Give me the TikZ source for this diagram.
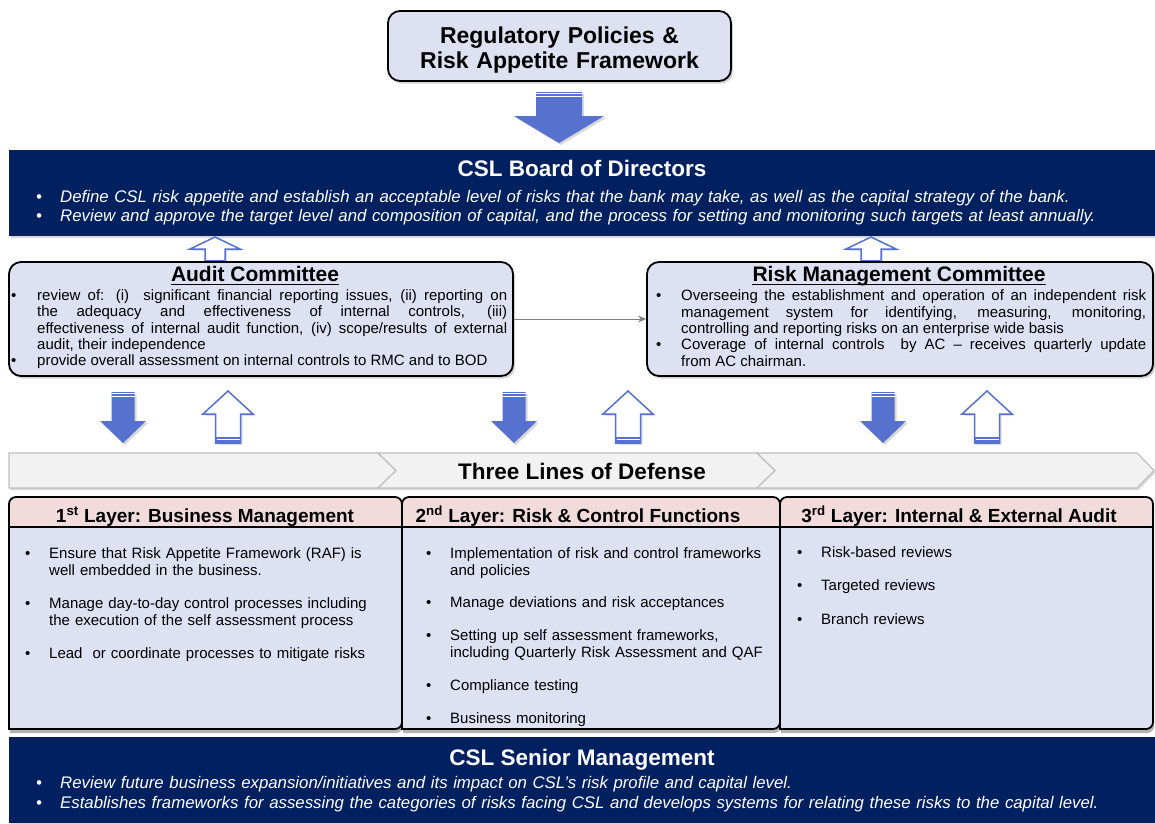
\documentclass[tikz,border=0pt]{standalone}
\usepackage{fontspec}
\setmainfont{Liberation Sans}
\usetikzlibrary{shadows,arrows.meta}
\definecolor{navy}{RGB}{0,32,96}
\definecolor{lav}{RGB}{221,225,242}
\definecolor{pinkh}{RGB}{242,219,219}
\definecolor{ablue}{RGB}{86,113,206}
\definecolor{chevf}{RGB}{242,242,242}
\definecolor{chevd}{RGB}{191,191,191}
\definecolor{conn}{RGB}{128,128,128}
\newcommand\bul[2]{\par\noindent\hangindent=#1\hangafter=1\makebox[#1][l]{\textbullet}\ignorespaces#2\par}
\newcommand\fsz[2]{\fontsize{#1}{#2}\selectfont}
\newcommand\DArrow[6]{%
  \fill[ablue, drop shadow={opacity=0.3, shadow xshift=2pt, shadow yshift=-2pt}]
    ({#1-#5},#2) -- ({#1+#5},#2) -- ({#1+#5},#3) -- ({#1+#6},#3) -- (#1,#4) -- ({#1-#6},#3) -- ({#1-#5},#3) -- cycle;
  \draw[white, line width=0.9pt] ({#1-#5},{#2+1.8}) -- ({#1+#5},{#2+1.8});
  \draw[white, line width=0.9pt] ({#1-#5},{#2+4.5}) -- ({#1+#5},{#2+4.5});
}
\newcommand\UArrow[6]{%
  \draw[ablue, fill=white, line width=1.5pt, line join=miter, drop shadow={opacity=0.25, shadow xshift=2pt, shadow yshift=-2pt}]
    (#1,#2) -- ({#1+#6},#3) -- ({#1+#5},#3) -- ({#1+#5},#4) -- ({#1-#5},#4) -- ({#1-#5},#3) -- ({#1-#6},#3) -- cycle;
  \fill[ablue] ({#1-#5},{#4-6}) rectangle ({#1+#5},#4);
  \draw[white, line width=0.8pt] ({#1-#5+1},{#4-3.5}) -- ({#1+#5-1},{#4-3.5});
}
\begin{document}
\begin{tikzpicture}[x=1pt,y=-1pt,
  box/.style={draw=black, line width=1.8pt, fill=lav, rounded corners=12pt, inner sep=0pt,
    drop shadow={opacity=0.35, shadow xshift=2pt, shadow yshift=-2.5pt}},
  navybox/.style={fill=navy, inner sep=0pt, drop shadow={opacity=0.3, shadow xshift=1.5pt, shadow yshift=-2pt}},
  ttl/.style={font=\bfseries\fsz{22.5}{26}, inner sep=0pt},
  sub/.style={font=\bfseries\fsz{21}{24}, inner sep=0pt},
  hdr/.style={font=\bfseries\fsz{19}{22}, inner sep=0pt},
  bodytxt/.style={anchor=base west, inner sep=0pt, align=left, font=\fsz{15}{17}},
  chevron/.style={fill=chevf, draw=chevd, line width=1.2pt, line join=miter},
  colline/.style={line width=1.8pt, draw=black}
]
\useasboundingbox (0,0) rectangle (1155,823);
\fill[white] (0,0) rectangle (1155,823);

% ---------- top box ----------
\node[box, minimum width=343pt, minimum height=70pt] (reg) at (559.5,46) {};
\node[anchor=base, text width=340pt, align=center, font=\bfseries\fsz{23}{25}, inner sep=0pt] (regt) at (559.5,43.5) {Regulatory Policies \&\\Risk Appetite Framework};
\DArrow{559}{92}{116}{143}{23}{45}

% ---------- board ----------
\node[navybox, minimum width=1146pt, minimum height=86pt] (board) at (582,193) {};
\node[ttl, text=white, anchor=base] (boardt) at (582,176) {CSL Board of Directors};
\node[bodytxt, text width=1110pt, text=white, font=\itshape\fsz{16.8}{19}] (boardb) at (36,183.5)
  {\bul{24pt}{Define CSL risk appetite and establish an acceptable level of risks that the bank may take, as well as the capital strategy of the bank.}%
   \bul{24pt}{Review and approve the target level and composition of capital, and the process for setting and monitoring such targets at least annually.}};

\UArrow{215}{237}{249}{266}{10}{25}
\UArrow{871}{237}{249}{266}{10}{25}

% ---------- committees ----------
\node[box, minimum width=504pt, minimum height=114pt] (audit) at (261,319) {};
\node[sub, anchor=base] (auditt) at (255,281.5) {Audit Committee};
\draw[line width=1.3pt] ([yshift=-3pt]auditt.base west) -- ([yshift=-3pt]auditt.base east);
\node[bodytxt, text width=496pt, align=justify, font=\fsz{15}{16.2}] (auditb) at (11,284.5)
  {\bul{26pt}{review of: (i)~ significant financial reporting issues, (ii) reporting on\linebreak the adequacy and effectiveness of internal controls, (iii)\linebreak effectiveness of internal audit function, (iv) scope/results of external\linebreak audit, their independence}%
   \bul{26pt}{provide overall assessment on internal controls to RMC and to BOD}};

\node[box, minimum width=506pt, minimum height=114pt] (rmc) at (900,319) {};
\node[sub, anchor=base] (rmct) at (899,281.5) {Risk Management Committee};
\draw[line width=1.3pt] ([yshift=-3pt]rmct.base west) -- ([yshift=-3pt]rmct.base east);
\node[bodytxt, text width=490pt, align=justify, font=\fsz{15}{16.3}] (rmcb) at (656,284.5)
  {\bul{25pt}{Overseeing the establishment and operation of an independent risk\linebreak management system for identifying, measuring, monitoring,\linebreak controlling and reporting risks on an enterprise wide basis}%
   \bul{25pt}{Coverage of internal controls~ by AC -- receives quarterly update\linebreak from AC chairman.}};

\draw[conn, line width=1pt, -{Stealth[length=8pt,width=7pt]}] (audit.east) -- (rmc.west);

% ---------- arrows row ----------
\DArrow{123}{392}{421}{443}{11.5}{23}
\DArrow{514}{392}{421}{443}{11.5}{23}
\DArrow{883}{392}{421}{443}{11.5}{23}
\UArrow{228}{391}{414}{443}{12.5}{25}
\UArrow{628}{391}{414}{443}{12.5}{25}
\UArrow{987}{391}{414}{443}{12.5}{25}

% ---------- chevrons ----------
\filldraw[chevron, drop shadow={opacity=0.3, shadow xshift=1.5pt, shadow yshift=-2pt}]
  (9,453) -- (378,453) -- (396,470.5) -- (378,488) -- (9,488) -- cycle;
\filldraw[chevron, drop shadow={opacity=0.3, shadow xshift=1.5pt, shadow yshift=-2pt}]
  (378,453) -- (757,453) -- (775,470.5) -- (757,488) -- (378,488) -- (396,470.5) -- cycle;
\filldraw[chevron, drop shadow={opacity=0.3, shadow xshift=1.5pt, shadow yshift=-2pt}]
  (757,453) -- (1137,453) -- (1154,470.5) -- (1137,488) -- (757,488) -- (775,470.5) -- cycle;
\node[ttl, anchor=base] (tlod) at (582,479) {Three Lines of Defense};

% ---------- columns ----------
\foreach \xa/\xb in {9/402, 402/780, 780/1153}{
  \path[fill=lav, drop shadow={opacity=0.6, shadow xshift=1pt, shadow yshift=-4pt}]
    (\xa,729) [rounded corners=7pt] -- (\xa,497) -- (\xb,497) -- (\xb,729) [sharp corners] -- cycle;
  \path[fill=pinkh] (\xa,527) [rounded corners=7pt] -- (\xa,497) -- (\xb,497) -- (\xb,527) [sharp corners] -- cycle;
  \draw[colline] (\xa,527) -- (\xb,527);
  \draw[colline] (\xa,729) [rounded corners=7pt] -- (\xa,497) -- (\xb,497) -- (\xb,729) [sharp corners] -- cycle;
}
\node[hdr, anchor=base] (h1) at (205,522) {1\textsuperscript{st} Layer: Business Management};
\node[hdr, anchor=base] (h2) at (578,522) {2\textsuperscript{nd} Layer: Risk \& Control Functions};
\node[hdr, anchor=base] (h3) at (959,522) {3\textsuperscript{rd} Layer: Internal \& External Audit};

\node[bodytxt, text width=365pt] (c1b) at (25,541.5)
  {\bul{24pt}{Ensure that Risk Appetite Framework (RAF) is\newline well embedded in the business.}\vspace{16pt}%
   \bul{24pt}{Manage day-to-day control processes including\newline the execution of the self assessment process}\vspace{16pt}%
   \bul{24pt}{Lead~ or coordinate processes to mitigate risks}};
\node[bodytxt, text width=345pt] (c2b) at (426,541.5)
  {\bul{24pt}{Implementation of risk and control frameworks\newline and policies}\vspace{15pt}%
   \bul{24pt}{Manage deviations and risk acceptances}\vspace{16pt}%
   \bul{24pt}{Setting up self assessment frameworks,\newline including Quarterly Risk Assessment and QAF}\vspace{16pt}%
   \bul{24pt}{Compliance testing}\vspace{16pt}%
   \bul{24pt}{Business monitoring}};
\node[bodytxt, text width=345pt] (c3b) at (797,540)
  {\bul{24pt}{Risk-based reviews}\vspace{16pt}%
   \bul{24pt}{Targeted reviews}\vspace{17pt}%
   \bul{24pt}{Branch reviews}};

% ---------- senior management ----------
\node[navybox, minimum width=1146pt, minimum height=86pt] (senior) at (582,780) {};
\node[ttl, text=white, anchor=base] (seniort) at (582,765) {CSL Senior Management};
\node[bodytxt, text width=1110pt, text=white, font=\itshape\fsz{16.8}{20}] (seniorb) at (36,768.5)
  {\bul{24pt}{Review future business expansion/initiatives and its impact on CSL’s risk profile and capital level.}%
   \bul{24pt}{Establishes frameworks for assessing the categories of risks facing CSL and develops systems for relating these risks to the capital level.}};
\end{tikzpicture}
\end{document}
